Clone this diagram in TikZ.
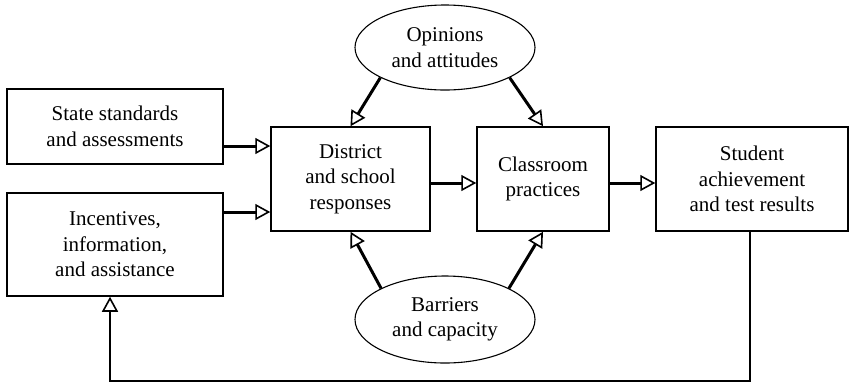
\documentclass[tikz,border=0pt]{standalone}
\usepackage{fontspec}
\setmainfont{Liberation Serif}
\usetikzlibrary{arrows.meta,shapes.geometric}
\begin{document}
\begin{tikzpicture}[x=1pt,y=-1pt,
  txt/.style={font=\fontsize{21}{25.5}\selectfont, align=center, inner sep=0pt},
  box/.style={txt, draw, line width=1.5pt, rectangle},
  oval/.style={txt, draw, line width=1.1pt, ellipse},
  tip/.style={-{Triangle[open,length=15pt,width=16pt,line width=1.6pt]}},
  flow/.style={tip, line width=3pt},
  loop/.style={tip, line width=2.5pt}]
\useasboundingbox (0,0) rectangle (851,384);
% boxes
\node[box, minimum width=216pt, minimum height=75pt] (state) at (115,126.5)
  {State standards\\and assessments};
\node[box, minimum width=216pt, minimum height=103pt] (incent) at (115,244.5)
  {Incentives,\\information,\\and assistance};
\node[box, minimum width=159pt, minimum height=104pt] (district) at (350.5,179)
  {District\\and school\\responses};
\node[box, minimum width=132pt, minimum height=104pt] (class) at (543,179)
  {Classroom\\practices};
\node[box, minimum width=192pt, minimum height=104pt] (student) at (752,179)
  {Student\\achievement\\and test results};
% ellipses
\node[oval, minimum width=180pt, minimum height=85pt] (opin) at (445,47.5)
  {Opinions\\and attitudes};
\node[oval, minimum width=180pt, minimum height=87pt] (barr) at (445,319.5)
  {Barriers\\and capacity};
% horizontal flows
\draw[flow] ([yshift=-19.5pt]state.east) -- ([yshift=33pt]district.west);
\draw[flow] ([yshift=32.5pt]incent.east) -- ([yshift=-33pt]district.west);
\draw[flow] ([yshift=-4pt]district.east) -- ([yshift=-4pt]class.west);
\draw[flow] ([yshift=-4pt]class.east) -- ([yshift=-4pt]student.west);
% influences from the ellipses
\draw[flow] (opin.205) -- (district.north);
\draw[flow] (opin.335) -- (class.north);
\draw[flow] (barr.154) -- (district.south);
\draw[flow] (barr.26) -- (class.south);
% feedback loop
\coordinate (loopR) at (750,381);
\coordinate (loopL) at (110,381);
\draw[loop] (student.south -| loopR) -- (loopR) -- (loopL) -- (incent.south -| loopL);
\end{tikzpicture}
\end{document}
